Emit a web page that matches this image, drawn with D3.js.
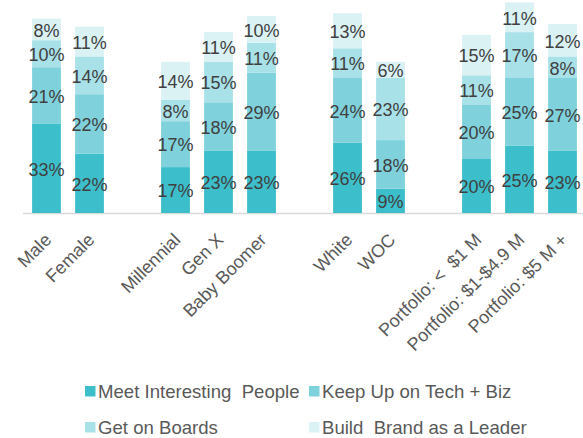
<!DOCTYPE html>
<html><head><meta charset="utf-8">
<script src="https://cdn.jsdelivr.net/npm/d3@7"></script>
<style>
html,body{margin:0;padding:0;background:#fff;}
svg{display:block;font-family:"Liberation Sans",Arial,sans-serif;}
</style></head>
<body><svg id="c" width="583" height="438"></svg>
<script>
const slots = ["Male","Female","_g1","Millennial","Gen X","Baby Boomer","_g2","White","WOC","_g3","Portfolio: <  $1 M","Portfolio: $1-$4.9 M","Portfolio: $5 M +"];
const categories = ["Male","Female","Millennial","Gen X","Baby Boomer","White","WOC","Portfolio: <  $1 M","Portfolio: $1-$4.9 M","Portfolio: $5 M +"];
const seriesNames = ["Meet Interesting  People","Keep Up on Tech + Biz","Get on Boards","Build  Brand as a Leader"];
const meetPeople = [33,22,17,23,23,26,9,20,25,23];
const keepUpTech = [21,22,17,18,29,24,18,20,25,27];
const getOnBoards = [10,14,8,15,11,11,23,11,17,8];
const buildBrand = [8,11,14,11,10,13,6,15,11,12];
const colors = ["#3dbfcb","#7fd2dc","#a9e1e8","#dbf2f5"];

const series = [meetPeople, keepUpTech, getOnBoards, buildBrand];
const rows = categories.map((c,i)=>{const o={cat:c}; seriesNames.forEach((s,k)=>o[s]=series[k][i]); return o;});
const stacked = d3.stack().keys(seriesNames)(rows);

const svg = d3.select("#c");
const x = d3.scaleBand().domain(slots).range([25,584]).paddingInner(0.33).paddingOuter(0.165);
const y = d3.scaleLinear().domain([0,80]).range([213,-3]);

// axis line
svg.append("line").attr("x1",23).attr("x2",583).attr("y1",213.5).attr("y2",213.5)
  .attr("stroke","#d9d9d9").attr("stroke-width",1.5);

const g = svg.append("g");
stacked.forEach((layer,k)=>{
  g.selectAll(null).data(layer).join("rect")
    .attr("x",d=>x(d.data.cat))
    .attr("width",x.bandwidth())
    .attr("y",d=>y(d[1]))
    .attr("height",d=>y(d[0])-y(d[1]))
    .attr("fill",colors[k]);
});
stacked.forEach((layer,k)=>{
  g.selectAll(null).data(layer).join("text")
    .attr("x",d=>x(d.data.cat)+x.bandwidth()/2)
    .attr("y",d=>(y(d[0])+y(d[1]))/2+1)
    .attr("dy","0.35em")
    .attr("text-anchor","middle")
    .attr("font-size",18)
    .attr("fill","#404040")
    .text(d=>d[1]-d[0]+"%");
});

// category labels (rotated)
svg.append("g").selectAll("text").data(categories).join("text")
  .attr("transform",d=>`translate(${x(d)+x.bandwidth()/2+6},241) rotate(-45)`)
  .attr("text-anchor","end")
  .attr("font-size",18)
  .attr("fill","#595959")
  .style("white-space","pre")
  .text(d=>d);

// legend
const legPos = [[85,391],[309,391],[85,427],[309,427]];
const lg = svg.append("g");
seriesNames.forEach((s,k)=>{
  const [lx,ly] = legPos[k];
  lg.append("rect").attr("x",lx).attr("y",ly-5).attr("width",10.5).attr("height",10.5).attr("fill",colors[k]);
  lg.append("text").attr("x",lx+13).attr("y",ly).attr("dy","0.35em")
    .attr("font-size",18.6).attr("fill","#595959").style("white-space","pre").text(s);
});
</script></body></html>
